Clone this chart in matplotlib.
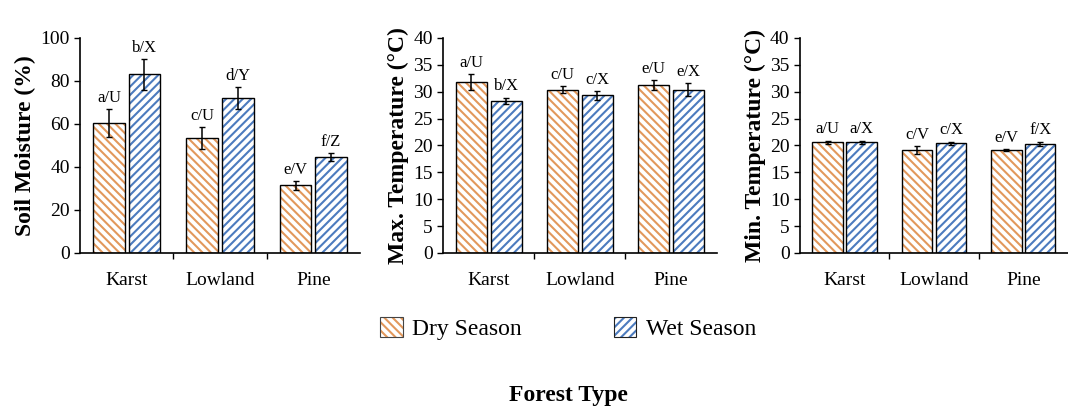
import numpy as np
import matplotlib
matplotlib.use('Agg')
import matplotlib.pyplot as plt
from matplotlib.patches import Patch
from matplotlib.legend_handler import HandlerTuple

plt.rcParams['font.family'] = ['Liberation Serif', 'DejaVu Serif']
plt.rcParams['hatch.linewidth'] = 1.5

# data
forests = ['Karst', 'Lowland', 'Pine']

moist_dry = [60.5, 53.5, 31.5]
moist_dry_err = [6.5, 5.0, 2.0]
moist_wet = [83.0, 72.0, 44.5]
moist_wet_err = [7.0, 5.0, 1.8]
moist_dry_lab = ['a/U', 'c/U', 'e/V']
moist_wet_lab = ['b/X', 'd/Y', 'f/Z']

tmax_dry = [31.8, 30.4, 31.2]
tmax_dry_err = [1.5, 0.7, 0.9]
tmax_wet = [28.3, 29.3, 30.4]
tmax_wet_err = [0.6, 0.8, 1.2]
tmax_dry_lab = ['a/U', 'c/U', 'e/U']
tmax_wet_lab = ['b/X', 'c/X', 'e/X']

tmin_dry = [20.6, 19.2, 19.1]
tmin_dry_err = [0.3, 0.7, 0.2]
tmin_wet = [20.6, 20.4, 20.3]
tmin_wet_err = [0.3, 0.3, 0.4]
tmin_dry_lab = ['a/U', 'c/V', 'e/V']
tmin_wet_lab = ['a/X', 'c/X', 'f/X']

dry_col = '#E2985C'
wet_col = '#4C7BBE'

fig = plt.figure(figsize=(10.68, 4.08), dpi=100)

panels = [
    ([0.075, 0.38, 0.262, 0.527], 'Soil Moisture (%)', 100, 20,
     moist_dry, moist_dry_err, moist_wet, moist_wet_err, moist_dry_lab, moist_wet_lab),
    ([0.415, 0.38, 0.256, 0.527], 'Max. Temperature (\u00b0C)', 40, 5,
     tmax_dry, tmax_dry_err, tmax_wet, tmax_wet_err, tmax_dry_lab, tmax_wet_lab),
    ([0.749, 0.38, 0.251, 0.527], 'Min. Temperature (\u00b0C)', 40, 5,
     tmin_dry, tmin_dry_err, tmin_wet, tmin_wet_err, tmin_dry_lab, tmin_wet_lab),
]

x = np.arange(len(forests))
w = 0.34
off = 0.19

for rect, ylab, ymax, step, dv, de, wv, we, dl, wl in panels:
    ax = fig.add_axes(rect)
    # hatched fill then black outline
    ax.bar(x - off, dv, w, color='white', edgecolor=dry_col, hatch='\\\\\\\\', linewidth=0)
    ax.bar(x + off, wv, w, color='white', edgecolor=wet_col, hatch='////', linewidth=0)
    ax.bar(x - off, dv, w, fill=False, edgecolor='black', linewidth=1.0)
    ax.bar(x + off, wv, w, fill=False, edgecolor='black', linewidth=1.0)
    ax.errorbar(x - off, dv, yerr=de, fmt='none', ecolor='black', elinewidth=1.1, capsize=2, capthick=1)
    ax.errorbar(x + off, wv, yerr=we, fmt='none', ecolor='black', elinewidth=1.1, capsize=2, capthick=1)
    for i in range(len(forests)):
        ax.text(x[i] - off, dv[i] + de[i] + ymax * 0.015, dl[i], ha='center', va='bottom', fontsize=12)
        ax.text(x[i] + off, wv[i] + we[i] + ymax * 0.015, wl[i], ha='center', va='bottom', fontsize=12)
    ax.set_xlim(-0.5, 2.5)
    ax.set_ylim(0, ymax)
    ax.set_yticks(np.arange(0, ymax + 1, step))
    ax.set_xticks([0.5, 1.5])
    ax.set_xticklabels([])
    ax.set_xticks(x, minor=True)
    ax.set_xticklabels(forests, minor=True)
    ax.tick_params(axis='x', which='minor', length=0, pad=14, labelsize=14)
    ax.tick_params(axis='x', which='major', length=4, width=1, direction='out')
    ax.tick_params(axis='y', labelsize=14, length=4, width=1)
    ax.spines['top'].set_visible(False)
    ax.spines['right'].set_visible(False)
    ax.spines['left'].set_linewidth(1.2)
    ax.spines['bottom'].set_linewidth(1.2)
    ax.set_ylabel(ylab, fontsize=17, fontweight='bold', labelpad=3)

dry_h = (Patch(facecolor='white', edgecolor=dry_col, hatch='\\\\\\\\', linewidth=0),
         Patch(fill=False, edgecolor='#444444', linewidth=0.8))
wet_h = (Patch(facecolor='white', edgecolor=wet_col, hatch='////', linewidth=0),
         Patch(fill=False, edgecolor='#222222', linewidth=0.8))
fig.legend([dry_h, wet_h], ['Dry Season', 'Wet Season'],
           handler_map={tuple: HandlerTuple(ndivide=1, pad=0)},
           loc='center', bbox_to_anchor=(0.532, 0.195), ncol=2, frameon=False,
           fontsize=17, columnspacing=3.9, handlelength=0.95, handleheight=0.95,
           handletextpad=0.4)

fig.text(0.532, 0.03, 'Forest Type', ha='center', va='center', fontsize=17, fontweight='bold')

fig.savefig('out.png', dpi=100)
